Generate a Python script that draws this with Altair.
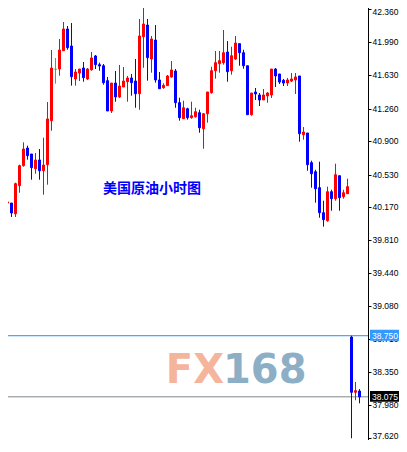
import altair as alt
import pandas as pd

# candle index (one per hour)
idx = list(range(-1, 90))

opens = [40.212, 40.205, 40.216, 40.216, 40.098, 40.408, 40.629, 40.824, 40.758, 40.595,
         40.692, 40.573, 40.640, 41.126, 41.694, 41.697, 41.899, 42.139, 41.951, 41.587,
         41.653, 41.708, 41.587, 41.689, 41.841, 41.745, 41.733, 41.568, 41.233, 41.542,
         41.388, 41.498, 41.557, 41.598, 41.564, 41.424, 42.054, 42.183, 41.808, 42.017,
         41.576, 41.490, 41.513, 41.609, 41.675, 41.325, 41.148, 41.258, 41.159, 41.170,
         41.214, 41.037, 41.203, 41.435, 41.678, 41.756, 41.767, 41.885, 41.678, 41.808,
         41.977, 41.877, 41.733, 41.192, 41.443, 41.410, 41.355, 41.399, 41.410, 41.697,
         41.642, 41.572, 41.542, 41.564, 41.576, 41.620, 40.971, 40.990, 40.662, 40.562,
         40.386, 40.109, 40.021, 40.341, 40.264, 40.518, 40.286, 40.319, 38.736, 38.125,
         38.139]
highs = [40.212, 40.272, 40.250, 40.216, 40.441, 40.640, 40.887, 40.850, 40.758, 40.769,
         40.813, 40.938, 41.332, 41.907, 41.819, 42.029, 42.216, 42.172, 42.205, 41.697,
         41.697, 41.774, 41.708, 41.885, 41.852, 41.767, 41.752, 41.609, 41.542, 41.675,
         41.741, 41.719, 41.620, 41.642, 41.808, 42.250, 42.382, 42.250, 42.062, 42.183,
         41.664, 41.539, 41.631, 41.785, 41.697, 41.380, 41.347, 41.269, 41.336, 41.269,
         41.247, 41.203, 41.443, 41.722, 41.896, 41.896, 42.128, 42.006, 41.943, 42.062,
         41.977, 41.910, 41.733, 41.432, 41.487, 41.432, 41.476, 41.443, 41.697, 41.708,
         41.642, 41.587, 41.598, 41.653, 41.653, 41.620, 41.056, 40.990, 40.684, 40.584,
         40.673, 40.242, 40.397, 40.363, 40.651, 40.518, 40.363, 40.485, 38.750, 38.239,
         38.161]
lows = [40.200, 40.150, 40.183, 40.062, 40.062, 40.330, 40.618, 40.695, 40.474, 40.540,
        40.474, 40.308, 40.419, 41.015, 41.535, 41.623, 41.899, 41.910, 41.513, 41.513,
        41.564, 41.557, 41.576, 41.678, 41.697, 41.678, 41.524, 41.233, 41.211, 41.336,
        41.377, 41.498, 41.336, 41.402, 41.269, 41.247, 41.711, 41.568, 41.656, 41.546,
        41.479, 41.479, 41.513, 41.601, 41.269, 41.126, 41.148, 41.137, 41.148, 41.159,
        40.993, 40.816, 41.104, 41.424, 41.590, 41.656, 41.745, 41.557, 41.634, 41.797,
        41.733, 41.700, 41.192, 41.181, 41.355, 41.288, 41.355, 41.325, 41.377, 41.498,
        41.531, 41.509, 41.509, 41.553, 41.421, 40.894, 40.916, 40.573, 40.386, 40.220,
        40.054, 39.955, 40.010, 40.131, 40.242, 40.131, 40.264, 40.319, 37.617, 38.037,
        38.003]
closes = [40.200, 40.205, 40.228, 40.106, 40.430, 40.629, 40.813, 40.739, 40.607, 40.692,
          40.573, 40.636, 41.145, 41.708, 41.694, 41.907, 42.139, 41.932, 41.612, 41.664,
          41.697, 41.601, 41.697, 41.819, 41.745, 41.730, 41.546, 41.233, 41.542, 41.388,
          41.509, 41.564, 41.598, 41.546, 41.424, 42.062, 42.194, 41.822, 42.029, 41.576,
          41.479, 41.517, 41.620, 41.686, 41.325, 41.159, 41.269, 41.159, 41.181, 41.225,
          41.048, 41.203, 41.443, 41.678, 41.767, 41.789, 41.877, 41.667, 41.844, 41.984,
          41.877, 41.733, 41.192, 41.432, 41.421, 41.355, 41.410, 41.432, 41.697, 41.620,
          41.553, 41.542, 41.576, 41.587, 41.609, 40.982, 41.001, 40.640, 40.540, 40.374,
          40.109, 40.032, 40.341, 40.264, 40.529, 40.275, 40.330, 40.397, 38.125, 38.143,
          38.075]

tick_values = [42.36, 41.99, 41.63, 41.26, 40.90, 40.53, 40.17, 39.81, 39.44, 39.08,
               38.71, 38.35, 37.98, 37.62]

level_values = [38.75, 38.075]
level_labels = ["38.750", "38.075"]
level_line_colors = ["#1E90FF", "#7F878C"]
level_box_colors = ["#3399FF", "#000000"]

chart_title = "美国原油小时图"

df = pd.DataFrame({"k": idx, "open": opens, "high": highs, "low": lows, "close": closes})

xs = alt.Scale(domain=[-0.875, 91.125], nice=False, zero=False)
ys = alt.Scale(domain=[37.4653, 42.4594], nice=False, zero=False)
cs = alt.Scale(domain=["up", "down", "doji"], range=["#FF0000", "#0000FF", "#00DD00"])

# keep the outermost labels inside the visible page area
label_offset = {
    "condition": [
        {"test": "datum.value > 42.3", "value": 3},
        {"test": "datum.value < 37.7", "value": -2},
    ],
    "value": -0.5,
}

yax = alt.Axis(orient="right", values=tick_values, format=".3f", grid=False, title=None,
               domainColor="black", domainWidth=1, tickColor="black", tickWidth=1,
               tickSize=3, labelPadding=1, labelFont="Liberation Sans", labelFontSize=8.5,
               labelColor="black", labelFlush=False, labelOverlap=False,
               labelOffset=label_offset)

base = alt.Chart(df).transform_calculate(
    dir="datum.close > datum.open ? 'up' : (datum.close < datum.open ? 'down' : 'doji')",
    xa="datum.k - 0.25",
    xb="datum.k + 0.25",
)

wicks = base.mark_rule(strokeWidth=1).encode(
    x=alt.X("k:Q", scale=xs, axis=None),
    y=alt.Y("low:Q", scale=ys, axis=yax),
    y2="high:Q",
    color=alt.Color("dir:N", scale=cs, legend=None),
)

bodies = base.mark_rect(strokeWidth=1).encode(
    x=alt.X("xa:Q", scale=xs, axis=None),
    x2="xb:Q",
    y=alt.Y("open:Q", scale=ys, axis=yax),
    y2="close:Q",
    fill=alt.Fill("dir:N", scale=cs, legend=None),
    stroke=alt.Stroke("dir:N", scale=cs, legend=None),
)

layers = []

# watermark
wm1 = alt.Chart(pd.DataFrame({"t": ["FX"]})).mark_text(
    align="right", baseline="alphabetic", font="DejaVu Sans", fontWeight="bold",
    fontSize=40, color="#F5B59C").encode(x=alt.value(224), y=alt.value(383), text="t:N")
wm2 = alt.Chart(pd.DataFrame({"t": ["168"]})).mark_text(
    align="left", baseline="alphabetic", font="DejaVu Sans", fontWeight="bold",
    fontSize=40, color="#8DAFC6").encode(x=alt.value(223), y=alt.value(383), text="t:N")
layers += [wm1, wm2]

for v, lab, lc, bc in zip(level_values, level_labels, level_line_colors, level_box_colors):
    ldf = pd.DataFrame({"level": [v], "label": [lab]})
    rule = alt.Chart(ldf).mark_rule(strokeWidth=1, color=lc).encode(
        y=alt.Y("level:Q", scale=ys, axis=yax), x=alt.value(0), x2=alt.value(368))
    layers.append(rule)

layers += [wicks, bodies]

for v, lab, lc, bc in zip(level_values, level_labels, level_line_colors, level_box_colors):
    ldf = pd.DataFrame({"level": [v], "label": [lab]})
    box = alt.Chart(ldf).mark_point(
        shape="M-1,-0.3H1V0.3H-1Z", size=1296, filled=True, color=bc, opacity=1,
        strokeWidth=0).encode(y=alt.Y("level:Q", scale=ys, axis=yax), x=alt.value(388),
                              yOffset=alt.value(-0.5))
    txt = alt.Chart(ldf).mark_text(
        align="left", baseline="middle", font="Liberation Sans", fontSize=8.5,
        color="white").encode(y=alt.Y("level:Q", scale=ys, axis=yax), x=alt.value(372),
                              text="label:N")
    layers += [box, txt]

title_txt = alt.Chart(pd.DataFrame({"t": [chart_title]})).mark_text(
    align="left", baseline="middle", font="Noto Sans CJK SC", fontWeight="bold",
    fontSize=14, color="#0000FF").encode(x=alt.value(103), y=alt.value(189), text="t:N")
layers.append(title_txt)

chart = alt.layer(*layers).properties(
    width=368, height=452,
    autosize=alt.AutoSizeParams(type="none"),
    padding={"left": -8, "top": -8, "right": 31, "bottom": -12},
    background="white",
).configure_view(stroke=None)

chart.save("out.html", embed_options={"renderer": "svg", "actions": False})
